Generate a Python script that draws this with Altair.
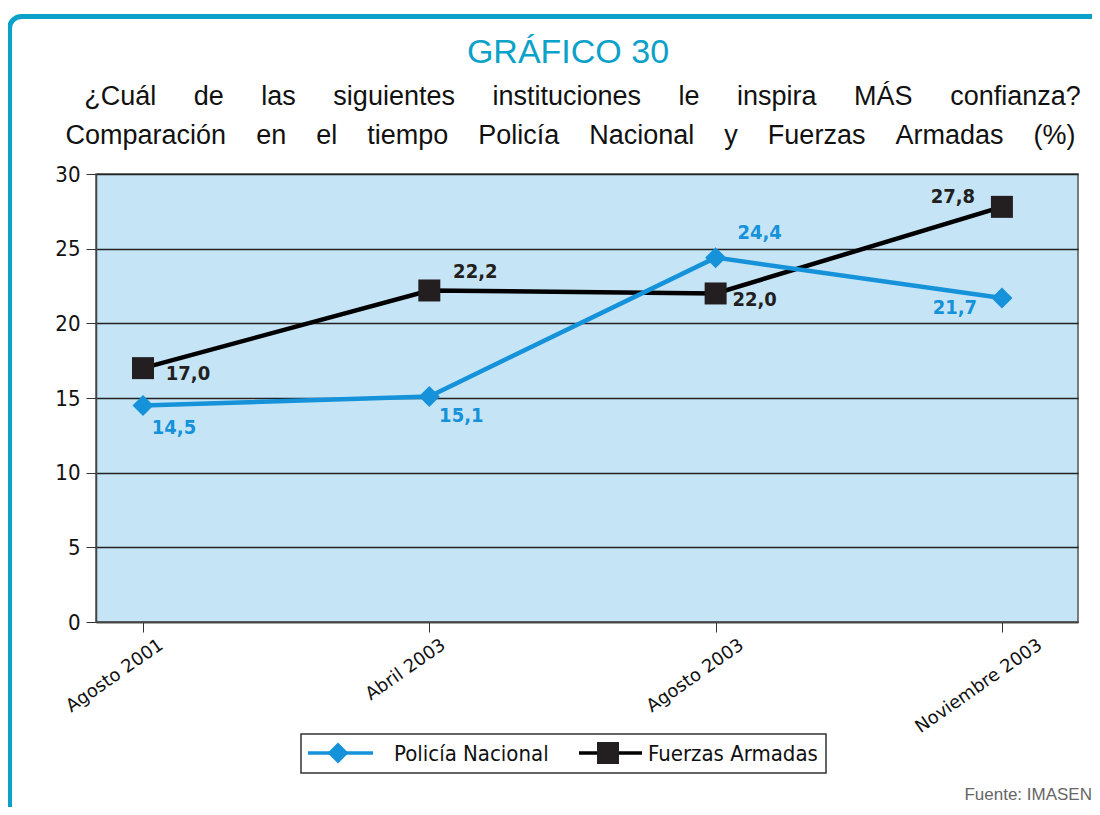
import altair as alt
import pandas as pd

# ---------------- data ----------------
categories = ["Agosto 2001", "Abril 2003", "Agosto 2003", "Noviembre 2003"]
series_names = ["Policía Nacional", "Fuerzas Armadas"]
policia = [14.5, 15.1, 24.4, 21.7]
fuerzas = [17.0, 22.2, 22.0, 27.8]
y_ticks = [0, 5, 10, 15, 20, 25, 30]

title_text = "GRÁFICO 30"
subtitle_1 = ["¿Cuál", "de", "las", "siguientes", "instituciones", "le", "inspira", "MÁS", "confianza?"]
subtitle_2 = ["Comparación", "en", "el", "tiempo", "Policía", "Nacional", "y", "Fuerzas", "Armadas", "(%)"]
source_text = "Fuente: IMASEN"

rows = []
for name, vals in zip(series_names, [policia, fuerzas]):
    for c, v in zip(categories, vals):
        rows.append({"cat": c, "serie": name, "valor": v,
                     "etiqueta": f"{v:.1f}".replace(".", ",")})
df = pd.DataFrame(rows)

# ---------------- styles ----------------
BLUE = "#1592d9"
BLACK = "#000000"
SQUARE = "#231f20"
TEAL = "#0aa2c8"
NARROW = "Liberation Sans, Arial, sans-serif"
COND = "DejaVu Sans Condensed, DejaVu Sans, sans-serif"
SANS = "DejaVu Sans, sans-serif"

W, H = 982, 448

xs = alt.Scale(type="point", domain=categories, padding=0.215, align=0.382)
ys = alt.Scale(domain=[0, 30], nice=False)

label_shift = {"Abril 2003": 14, "Agosto 2003": 26, "Noviembre 2003": 38}
label_offset = {
    "condition": [{"test": f"datum.value == '{k}'", "value": v} for k, v in label_shift.items()],
    "value": 18,
}

x_enc = alt.X("cat:N", scale=xs, sort=categories, title=None,
              axis=alt.Axis(labelAngle=-35, labelAlign="right", labelBaseline="middle",
                            labelFontSize=18, labelFont=SANS, labelColor="#111",
                            labelPadding=11, labelOffset=label_offset, tickSize=10,
                            tickColor="#333", domainColor="#444", domainWidth=1.5, grid=False))
y_enc = alt.Y("valor:Q", scale=ys, title=None,
              axis=alt.Axis(values=y_ticks, labelFontSize=22, labelFont=COND,
                            labelColor="#111", labelPadding=6, tickSize=10,
                            tickColor="#333", domainColor="#444", domainWidth=1.5,
                            grid=True, gridColor="#222", gridWidth=1.3))

base = alt.Chart(df)

layers = []

# frame
layers.append(
    alt.Chart(alt.Data(values=[{"k": 1}])).mark_rect(
        fillOpacity=0, stroke=TEAL, strokeWidth=5, cornerRadius=12
    ).encode(x=alt.value(-86.5), x2=alt.value(1040), y=alt.value(-157.5), y2=alt.value(700))
)

styles = {
    "Policía Nacional": dict(color=BLUE, shape="diamond", size=441, fill=BLUE),
    "Fuerzas Armadas": dict(color=BLACK, shape="square", size=484, fill=SQUARE),
}

for name in ["Fuerzas Armadas", "Policía Nacional"]:
    st = styles[name]
    sub = base.transform_filter(alt.datum.serie == name)
    layers.append(sub.mark_line(color=st["color"], strokeWidth=4.5).encode(x=x_enc, y=y_enc))
for name in ["Fuerzas Armadas", "Policía Nacional"]:
    st = styles[name]
    sub = base.transform_filter(alt.datum.serie == name)
    layers.append(sub.mark_point(shape=st["shape"], size=st["size"], filled=True,
                                 color=st["fill"], opacity=1).encode(x=x_enc, y=y_enc))

# value labels with per-point offsets
offsets = {
    ("Policía Nacional", "Agosto 2001"): (31, 23),
    ("Policía Nacional", "Abril 2003"): (32, 19),
    ("Policía Nacional", "Agosto 2003"): (44, -25),
    ("Policía Nacional", "Noviembre 2003"): (-47, 10),
    ("Fuerzas Armadas", "Agosto 2001"): (45, 6),
    ("Fuerzas Armadas", "Abril 2003"): (46, -18),
    ("Fuerzas Armadas", "Agosto 2003"): (39, 7),
    ("Fuerzas Armadas", "Noviembre 2003"): (-49, -10),
}
for (name, cat), (dx, dy) in offsets.items():
    col = BLUE if name == "Policía Nacional" else SQUARE
    layers.append(
        base.transform_filter((alt.datum.serie == name) & (alt.datum.cat == cat))
        .mark_text(dx=dx, dy=dy, font=COND, fontSize=20, fontWeight="bold", color=col,
                   align="center", baseline="middle")
        .encode(x=x_enc, y=y_enc, text="etiqueta:N")
    )

# titles
def text_layer(txt, x, y, **kw):
    return alt.Chart(alt.Data(values=[{"t": txt}])).mark_text(**kw).encode(
        x=alt.value(x), y=alt.value(y), text="t:N")

layers.append(text_layer(title_text, 472, -111, font=NARROW, fontSize=34, color=TEAL,
                         align="center", baseline="alphabetic"))
layers.append(text_layer(("\u00a0" * 5).join(subtitle_1), 486.5, -69, font=NARROW, fontSize=27,
                         color="#111", align="center", baseline="alphabetic"))
layers.append(text_layer(("\u00a0" * 4).join(subtitle_2), 474.5, -30, font=NARROW, fontSize=27,
                         color="#111", align="center", baseline="alphabetic"))
layers.append(text_layer(source_text, 996, 621, font=NARROW, fontSize=17, color="#666",
                         align="right", baseline="middle"))

# legend
layers.append(
    alt.Chart(alt.Data(values=[{"k": 1}])).mark_rect(
        fill="white", stroke="#333", strokeWidth=1.5
    ).encode(x=alt.value(205), x2=alt.value(730), y=alt.value(560), y2=alt.value(599))
)
leg_pos = {"Policía Nacional": (212, 277, 242, 298), "Fuerzas Armadas": (483, 546, 512, 552)}
for name in series_names:
    st = styles[name]
    x1, x2, xm, xt = leg_pos[name]
    d = alt.Data(values=[{"s": name}])
    layers.append(alt.Chart(d).mark_rule(color=st["color"], strokeWidth=3.5).encode(
        x=alt.value(x1), x2=alt.value(x2), y=alt.value(579)))
    layers.append(alt.Chart(d).mark_point(shape=st["shape"], size=st["size"], filled=True,
                                          color=st["fill"], opacity=1).encode(
        x=alt.value(xm), y=alt.value(579)))
    layers.append(alt.Chart(d).mark_text(font=COND, fontSize=22, color="#111", align="left",
                                         baseline="middle").encode(
        x=alt.value(xt), y=alt.value(580), text="s:N"))

chart = alt.layer(*layers).properties(
    width=W, height=H,
    autosize=alt.AutoSizeParams(type="none"),
    padding={"left": 88, "top": 166, "right": 14, "bottom": 185},
).configure_view(fill="#c5e5f7", stroke="#555", strokeWidth=1.5)

chart.save("out.html", embed_options={"renderer": "svg", "actions": False})
